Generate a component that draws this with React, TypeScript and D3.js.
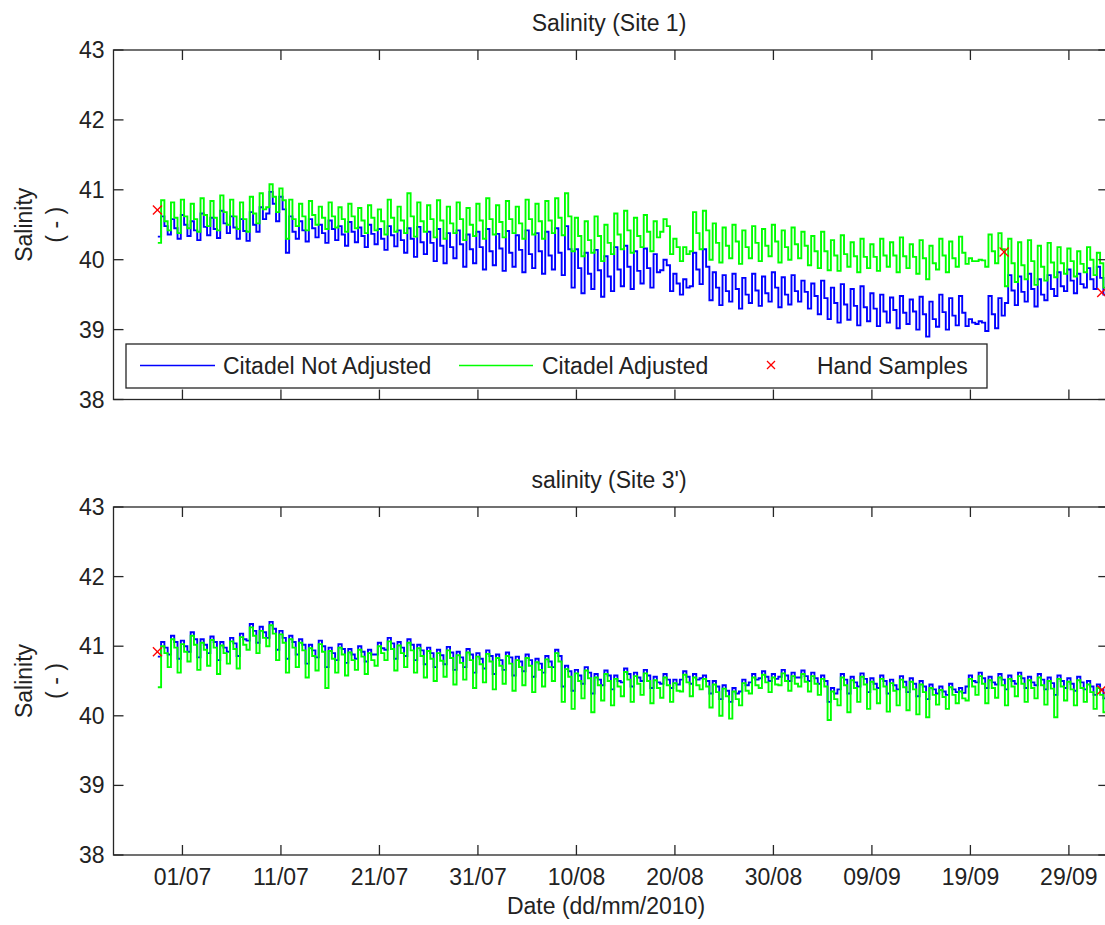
import React from 'react';
import * as d3 from 'd3';

// ---------- DATA ----------
const seriesStart = '2010-06-28';
const tickLabels = ['01/07', '11/07', '21/07', '31/07', '10/08', '20/08', '30/08', '09/09', '19/09', '29/09'];
const yTickValues = [38, 39, 40, 41, 42, 43];
const legendLabels = ['Citadel Not Adjusted', 'Citadel Adjusted', 'Hand Samples'];

// Site 1 — daily low / high / mid readings (28/06 .. 02/10)
const site1NotAdjLo = [
  40.33, 40.36, 40.30, 40.34, 40.28, 40.35, 40.31, 40.38, 40.30, 40.27,
  40.40, 40.66, 40.55, 40.10, 40.30, 40.26, 40.32, 40.24, 40.28, 40.20,
  40.25, 40.18, 40.22, 40.14, 40.19, 40.10, 40.04, 40.08, 39.98, 39.95,
  40.02, 39.90, 39.95, 39.86, 39.92, 39.84, 39.90, 39.82, 39.88, 39.80,
  39.86, 39.78, 39.60, 39.52, 39.58, 39.47, 39.55, 39.62, 39.58, 39.66,
  39.60, 39.85, 39.55, 39.50, 39.62, 39.65, 39.42, 39.35, 39.40, 39.30,
  39.38, 39.34, 39.40, 39.32, 39.36, 39.40, 39.30, 39.22, 39.15, 39.10,
  39.14, 39.06, 39.12, 39.05, 39.10, 39.02, 39.08, 39.00, 38.90, 39.04,
  39.00, 39.06, 39.05, 39.08, 38.98, 39.02, 39.38, 39.35, 39.40, 39.33,
  39.42, 39.48, 39.55, 39.52, 39.60, 39.58, 39.50,
];
const site1NotAdjHi = [
  40.62, 40.58, 40.64, 40.55, 40.66, 40.60, 40.70, 40.62, 40.58, 40.68,
  40.75, 40.97, 40.90, 40.62, 40.55, 40.58, 40.50, 40.56, 40.48, 40.54,
  40.46, 40.50, 40.44, 40.48, 40.42, 40.45, 40.47, 40.40, 40.44, 40.38,
  40.42, 40.36, 40.40, 40.44, 40.37, 40.41, 40.35, 40.42, 40.38, 40.40,
  40.45, 40.48, 40.15, 40.10, 40.14, 40.05, 40.18, 40.20, 40.12, 40.16,
  40.08, 40.00, 39.80, 39.72, 40.10, 40.15, 39.82, 39.78, 39.80, 39.74,
  39.80, 39.76, 39.82, 39.75, 39.78, 39.70, 39.66, 39.70, 39.60, 39.65,
  39.58, 39.62, 39.52, 39.50, 39.46, 39.48, 39.43, 39.47, 39.40, 39.50,
  39.45, 39.48, 39.15, 39.12, 39.48, 39.45, 39.78, 39.76, 39.80, 39.72,
  39.78, 39.82, 39.86, 39.80, 39.88, 39.90, 39.62,
];
const site1NotAdjMid = [
  40.48, 40.45, 40.50, 40.42, 40.47, 40.44, 40.52, 40.46, 40.41, 40.50,
  40.58, 40.80, 40.72, 40.40, 40.42, 40.45, 40.38, 40.44, 40.36, 40.40,
  40.34, 40.37, 40.30, 40.35, 40.28, 40.30, 40.25, 40.24, 40.20, 40.18,
  40.22, 40.15, 40.18, 40.12, 40.16, 40.10, 40.14, 40.08, 40.12, 40.06,
  40.10, 40.15, 39.88, 39.80, 39.85, 39.76, 39.86, 39.90, 39.84, 39.88,
  39.82, 39.92, 39.66, 39.60, 39.86, 39.90, 39.60, 39.55, 39.58, 39.50,
  39.56, 39.52, 39.60, 39.50, 39.55, 39.54, 39.48, 39.45, 39.38, 39.36,
  39.34, 39.32, 39.30, 39.26, 39.28, 39.24, 39.26, 39.22, 39.15, 39.25,
  39.20, 39.24, 39.10, 39.10, 39.22, 39.20, 39.56, 39.54, 39.58, 39.50,
  39.58, 39.62, 39.70, 39.65, 39.72, 39.74, 39.55,
];
const site1AdjLo = [
  40.24, 40.42, 40.38, 40.45, 40.40, 40.48, 40.42, 40.50, 40.44, 40.40,
  40.52, 40.75, 40.68, 40.30, 40.48, 40.42, 40.50, 40.44, 40.46, 40.40,
  40.45, 40.38, 40.42, 40.36, 40.40, 40.38, 40.33, 40.40, 40.32, 40.30,
  40.38, 40.28, 40.34, 40.30, 40.36, 40.32, 40.38, 40.30, 40.36, 40.30,
  40.38, 40.35, 40.12, 40.05, 40.10, 39.98, 40.08, 40.15, 40.10, 40.18,
  40.12, 40.40, 40.08, 39.98, 40.12, 40.15, 40.00, 39.96, 40.02, 39.94,
  40.02, 39.98, 40.05, 39.96, 40.00, 40.02, 39.92, 39.88, 39.85, 39.84,
  39.90, 39.82, 39.88, 39.84, 39.90, 39.82, 39.88, 39.80, 39.72, 39.86,
  39.82, 39.90, 39.94, 39.98, 39.90, 39.95, 39.62, 39.68, 39.72, 39.64,
  39.70, 39.75, 39.80, 39.76, 39.82, 39.78, 39.60,
];
const site1AdjHi = [
  40.85, 40.82, 40.86, 40.80, 40.88, 40.84, 40.92, 40.86, 40.82, 40.90,
  40.95, 41.08, 41.02, 40.86, 40.80, 40.84, 40.76, 40.82, 40.75, 40.80,
  40.74, 40.78, 40.72, 40.86, 40.76, 40.95, 40.82, 40.78, 40.85, 40.76,
  40.82, 40.74, 40.80, 40.88, 40.78, 40.84, 40.76, 40.86, 40.80, 40.84,
  40.88, 40.95, 40.60, 40.55, 40.62, 40.50, 40.66, 40.70, 40.60, 40.64,
  40.55, 40.58, 40.30, 40.18, 40.68, 40.70, 40.52, 40.46, 40.50, 40.42,
  40.48, 40.44, 40.50, 40.42, 40.46, 40.40, 40.34, 40.40, 40.28, 40.35,
  40.25, 40.30, 40.22, 40.30, 40.25, 40.32, 40.22, 40.28, 40.20, 40.30,
  40.26, 40.33, 40.02, 40.00, 40.36, 40.38, 40.30, 40.25, 40.28, 40.20,
  40.24, 40.18, 40.16, 40.12, 40.18, 40.10, 39.80,
];
const site1AdjMid = [
  40.55, 40.60, 40.62, 40.58, 40.64, 40.60, 40.68, 40.62, 40.58, 40.66,
  40.72, 40.90, 40.85, 40.58, 40.62, 40.64, 40.60, 40.62, 40.58, 40.62,
  40.56, 40.60, 40.55, 40.60, 40.56, 40.62, 40.55, 40.58, 40.56, 40.52,
  40.58, 40.50, 40.56, 40.58, 40.54, 40.58, 40.52, 40.58, 40.55, 40.56,
  40.60, 40.62, 40.34, 40.28, 40.34, 40.24, 40.36, 40.42, 40.34, 40.40,
  40.32, 40.48, 40.18, 40.08, 40.38, 40.42, 40.24, 40.20, 40.26, 40.18,
  40.24, 40.20, 40.26, 40.18, 40.22, 40.20, 40.12, 40.12, 40.06, 40.08,
  40.05, 40.04, 40.04, 40.06, 40.06, 40.05, 40.04, 40.02, 39.95, 40.06,
  40.02, 40.10, 39.98, 39.99, 40.12, 40.15, 39.95, 39.92, 39.98, 39.90,
  39.96, 39.95, 39.98, 39.94, 40.00, 39.95, 39.70,
];

// Site 3' — daily low / high / mid readings
const site3NotAdjLo = [
  40.85, 40.88, 40.82, 40.92, 40.84, 40.90, 40.80, 40.92, 40.86, 41.08,
  41.05, 41.12, 40.95, 40.82, 40.88, 40.75, 40.84, 40.70, 40.80, 40.76,
  40.82, 40.78, 40.88, 40.95, 40.82, 40.86, 40.80, 40.74, 40.70, 40.74,
  40.66, 40.70, 40.62, 40.68, 40.60, 40.66, 40.58, 40.64, 40.56, 40.62,
  40.70, 40.42, 40.36, 40.46, 40.32, 40.44, 40.38, 40.48, 40.42, 40.50,
  40.40, 40.46, 40.40, 40.52, 40.46, 40.54, 40.32, 40.24, 40.20, 40.35,
  40.48, 40.54, 40.50, 40.56, 40.50, 40.55, 40.50, 40.46, 40.20, 40.38,
  40.32, 40.42, 40.34, 40.40, 40.32, 40.38, 40.34, 40.28, 40.24, 40.32,
  40.30, 40.34, 40.42, 40.48, 40.40, 40.45, 40.38, 40.46, 40.40, 40.44,
  40.38, 40.30, 40.40, 40.36, 40.38, 40.30, 40.25,
];
const site3NotAdjHi = [
  41.06, 41.15, 41.08, 41.20, 41.10, 41.14, 41.06, 41.12, 41.18, 41.32,
  41.28, 41.35, 41.22, 41.15, 41.10, 41.02, 41.08, 40.98, 41.03, 40.96,
  41.00, 40.95, 41.05, 41.12, 41.06, 41.10, 41.02, 40.98, 40.95, 40.99,
  40.92, 40.96, 40.90, 40.94, 40.88, 40.91, 40.85, 40.88, 40.82, 40.86,
  40.95, 40.72, 40.66, 40.70, 40.60, 40.65, 40.58, 40.68, 40.62, 40.66,
  40.56, 40.60, 40.52, 40.64, 40.60, 40.58, 40.50, 40.44, 40.40, 40.52,
  40.60, 40.64, 40.60, 40.66, 40.62, 40.65, 40.62, 40.58, 40.40, 40.60,
  40.56, 40.61, 40.54, 40.58, 40.52, 40.57, 40.54, 40.50, 40.45, 40.42,
  40.46, 40.40, 40.58, 40.62, 40.56, 40.60, 40.58, 40.62, 40.56, 40.60,
  40.55, 40.58, 40.54, 40.56, 40.50, 40.45, 40.40,
];
const site3NotAdjMid = [
  40.98, 41.06, 41.00, 41.10, 41.02, 41.06, 40.98, 41.04, 41.10, 41.22,
  41.20, 41.25, 41.12, 41.06, 41.02, 40.94, 41.00, 40.90, 40.96, 40.88,
  40.92, 40.88, 40.97, 41.04, 40.98, 41.02, 40.94, 40.90, 40.87, 40.91,
  40.84, 40.88, 40.82, 40.86, 40.80, 40.84, 40.78, 40.80, 40.75, 40.78,
  40.86, 40.64, 40.58, 40.62, 40.52, 40.58, 40.50, 40.60, 40.55, 40.58,
  40.48, 40.52, 40.45, 40.56, 40.52, 40.50, 40.42, 40.36, 40.32, 40.44,
  40.52, 40.56, 40.53, 40.58, 40.55, 40.57, 40.54, 40.50, 40.32, 40.52,
  40.48, 40.53, 40.46, 40.50, 40.44, 40.49, 40.46, 40.42, 40.38, 40.35,
  40.38, 40.33, 40.50, 40.54, 40.48, 40.52, 40.50, 40.54, 40.48, 40.52,
  40.47, 40.50, 40.46, 40.48, 40.42, 40.38, 40.32,
];
const site3AdjLo = [
  40.41, 40.70, 40.62, 40.78, 40.66, 40.72, 40.60, 40.75, 40.68, 40.95,
  40.90, 41.00, 40.80, 40.62, 40.70, 40.55, 40.65, 40.40, 40.62, 40.58,
  40.66, 40.60, 40.72, 40.80, 40.65, 40.70, 40.62, 40.55, 40.50, 40.56,
  40.45, 40.52, 40.40, 40.48, 40.38, 40.46, 40.36, 40.44, 40.34, 40.42,
  40.50, 40.20, 40.10, 40.25, 40.05, 40.22, 40.15, 40.28, 40.20, 40.30,
  40.18, 40.26, 40.20, 40.35, 40.28, 40.38, 40.12, 40.00, 39.96, 40.15,
  40.32, 40.40, 40.34, 40.44, 40.36, 40.42, 40.35, 40.30, 39.94, 40.15,
  40.05, 40.20, 40.10, 40.18, 40.06, 40.15, 40.08, 40.02, 39.98, 40.16,
  40.10, 40.18, 40.22, 40.30, 40.18, 40.26, 40.15, 40.28, 40.20, 40.25,
  40.16, 39.98, 40.22, 40.15, 40.20, 40.10, 40.05,
];
const site3AdjHi = [
  41.00, 41.10, 41.03, 41.15, 41.05, 41.09, 41.01, 41.07, 41.13, 41.27,
  41.22, 41.30, 41.17, 41.10, 41.05, 40.97, 41.03, 40.93, 40.98, 40.91,
  40.95, 40.90, 41.00, 41.07, 41.01, 41.05, 40.97, 40.93, 40.90, 40.94,
  40.87, 40.91, 40.85, 40.89, 40.83, 40.86, 40.80, 40.83, 40.77, 40.81,
  40.90, 40.67, 40.61, 40.65, 40.55, 40.60, 40.53, 40.63, 40.57, 40.61,
  40.51, 40.55, 40.47, 40.59, 40.55, 40.53, 40.45, 40.39, 40.35, 40.47,
  40.55, 40.59, 40.55, 40.61, 40.57, 40.60, 40.57, 40.53, 40.35, 40.55,
  40.51, 40.56, 40.49, 40.53, 40.47, 40.52, 40.49, 40.45, 40.40, 40.37,
  40.41, 40.35, 40.53, 40.57, 40.51, 40.55, 40.53, 40.57, 40.51, 40.55,
  40.50, 40.53, 40.49, 40.51, 40.45, 40.40, 40.35,
];
const site3AdjMid = [
  40.90, 40.98, 40.92, 41.02, 40.95, 40.98, 40.90, 40.96, 41.02, 41.15,
  41.12, 41.18, 41.05, 40.98, 40.94, 40.86, 40.92, 40.82, 40.88, 40.80,
  40.85, 40.80, 40.90, 40.96, 40.90, 40.94, 40.86, 40.82, 40.79, 40.83,
  40.76, 40.80, 40.74, 40.78, 40.72, 40.75, 40.70, 40.72, 40.66, 40.70,
  40.78, 40.56, 40.50, 40.54, 40.44, 40.50, 40.42, 40.52, 40.46, 40.50,
  40.40, 40.44, 40.36, 40.48, 40.44, 40.42, 40.34, 40.28, 40.24, 40.36,
  40.44, 40.48, 40.45, 40.50, 40.46, 40.49, 40.46, 40.42, 40.24, 40.44,
  40.40, 40.45, 40.38, 40.42, 40.36, 40.41, 40.38, 40.34, 40.30, 40.27,
  40.30, 40.25, 40.42, 40.46, 40.40, 40.44, 40.42, 40.46, 40.40, 40.44,
  40.39, 40.42, 40.38, 40.40, 40.34, 40.30, 40.25,
];

// Hand samples
const site1HandDates = ['2010-06-28T11:00', '2010-09-22T10:00', '2010-10-02T08:00'];
const site1HandValues = [40.71, 40.11, 39.53];
const site3HandDates = ['2010-06-28T11:00', '2010-10-02T08:00'];
const site3HandValues = [40.92, 40.37];

// ---------- LAYOUT ----------
const W = 1105;
const H = 925;
const LEFT = 113.5;
const RIGHT = 1108.3;
const FONT = '"Liberation Sans", Arial, Helvetica, sans-serif';
const TXT = '#222';
const AX = '#262626';

const parseDay = d3.timeParse('%Y-%m-%d')!;
const parseDT = d3.timeParse('%Y-%m-%dT%H:%M')!;
const parseTick = d3.timeParse('%d/%m/%Y')!;

const x = d3
  .scaleTime()
  .domain([new Date(2010, 5, 24), new Date(2010, 9, 3)])
  .range([LEFT, RIGHT]);

type Pt = { t: Date; v: number };

// three readings a day: low at 12h, high at 20h, mid at 04h next day
function buildSeries(lo: number[], hi: number[], mid: number[]): Pt[] {
  const start = parseDay(seriesStart) as Date;
  const pts: Pt[] = [];
  lo.forEach((l, d) => {
    pts.push({ t: d3.timeHour.offset(start, d * 24 + 12), v: l });
    pts.push({ t: d3.timeHour.offset(start, d * 24 + 20), v: hi[d] });
    pts.push({ t: d3.timeHour.offset(start, d * 24 + 28), v: mid[d] });
  });
  return pts;
}

const tickDates = tickLabels.map((l) => parseTick(l + '/2010') as Date);

interface PanelDef {
  id: string;
  title: string;
  top: number;
  bottom: number;
  titleY: number;
  blue: Pt[];
  green: Pt[];
  hand: Pt[];
  xLabels: boolean;
  legend: boolean;
}

const panels: PanelDef[] = [
  {
    id: 'p1',
    title: 'Salinity (Site 1)',
    top: 50,
    bottom: 399.5,
    titleY: 31,
    blue: buildSeries(site1NotAdjLo, site1NotAdjHi, site1NotAdjMid),
    green: buildSeries(site1AdjLo, site1AdjHi, site1AdjMid),
    hand: site1HandDates.map((d, i) => ({ t: parseDT(d) as Date, v: site1HandValues[i] })),
    xLabels: false,
    legend: true,
  },
  {
    id: 'p2',
    title: "salinity (Site 3')",
    top: 507,
    bottom: 855,
    titleY: 488,
    blue: buildSeries(site3NotAdjLo, site3NotAdjHi, site3NotAdjMid),
    green: buildSeries(site3AdjLo, site3AdjHi, site3AdjMid),
    hand: site3HandDates.map((d, i) => ({ t: parseDT(d) as Date, v: site3HandValues[i] })),
    xLabels: true,
    legend: false,
  },
];

function Cross({ cx, cy, r = 4.5 }: { cx: number; cy: number; r?: number }) {
  return (
    <g stroke="#ff0000" strokeWidth={1.3}>
      <line x1={cx - r} y1={cy - r} x2={cx + r} y2={cy + r} />
      <line x1={cx - r} y1={cy + r} x2={cx + r} y2={cy - r} />
    </g>
  );
}

function Panel({ p }: { p: PanelDef }) {
  const y = d3.scaleLinear().domain([38, 43]).range([p.bottom, p.top]);
  const line = d3
    .line<Pt>()
    .x((d) => x(d.t))
    .y((d) => y(d.v))
    .curve(d3.curveStepAfter);
  const tick = 10;
  const yc = (p.top + p.bottom) / 2;
  return (
    <g>
      <defs>
        <clipPath id={'clip-' + p.id}>
          <rect x={LEFT} y={p.top} width={RIGHT - LEFT} height={p.bottom - p.top} />
        </clipPath>
      </defs>
      <g clipPath={`url(#clip-${p.id})`}>
        <path d={line(p.blue) || ''} fill="none" stroke="#0000ff" strokeWidth={1.9} />
        <path d={line(p.green) || ''} fill="none" stroke="#00ff00" strokeWidth={1.9} />
      </g>
      {p.hand.map((h, i) => (
        <Cross key={i} cx={x(h.t)} cy={y(h.v)} />
      ))}
      <rect
        x={LEFT}
        y={p.top}
        width={RIGHT - LEFT}
        height={p.bottom - p.top}
        fill="none"
        stroke={AX}
        strokeWidth={1.3}
      />
      {tickDates.map((d, i) => {
        const xx = x(d);
        return (
          <g key={'xt' + i} stroke={AX} strokeWidth={1.3}>
            <line x1={xx} x2={xx} y1={p.bottom} y2={p.bottom - tick} />
            <line x1={xx} x2={xx} y1={p.top} y2={p.top + tick} />
          </g>
        );
      })}
      {p.xLabels &&
        tickDates.map((d, i) => (
          <text
            key={'xl' + i}
            x={x(d)}
            y={p.bottom + 30}
            textAnchor="middle"
            fontSize={23}
            fill={TXT}
            fontFamily={FONT}
          >
            {tickLabels[i]}
          </text>
        ))}
      {yTickValues.map((v) => (
        <g key={'yt' + v}>
          <line x1={LEFT} x2={LEFT + tick} y1={y(v)} y2={y(v)} stroke={AX} strokeWidth={1.3} />
          <line x1={RIGHT} x2={RIGHT - tick} y1={y(v)} y2={y(v)} stroke={AX} strokeWidth={1.3} />
          <text
            x={LEFT - 9}
            y={y(v)}
            dy="0.35em"
            textAnchor="end"
            fontSize={23}
            fill={TXT}
            fontFamily={FONT}
          >
            {v}
          </text>
        </g>
      ))}
      <text x={609} y={p.titleY} textAnchor="middle" fontSize={23} fill={TXT} fontFamily={FONT}>
        {p.title}
      </text>
      <text
        transform={`translate(32,${yc}) rotate(-90)`}
        textAnchor="middle"
        fontSize={23}
        fill={TXT}
        fontFamily={FONT}
      >
        Salinity
      </text>
      <text
        transform={`translate(63,${yc}) rotate(-90)`}
        textAnchor="middle"
        fontSize={23}
        fill={TXT}
        fontFamily={FONT}
      >
        ( - )
      </text>
      {p.legend && (
        <g fontFamily={FONT} fontSize={23} fill={TXT}>
          <rect x={126} y={344} width={861} height={44} fill="#fff" stroke={AX} strokeWidth={1.3} />
          <line x1={140} x2={215} y1={365.5} y2={365.5} stroke="#0000ff" strokeWidth={1.5} />
          <text x={223} y={374}>{legendLabels[0]}</text>
          <line x1={459} x2={533} y1={365.5} y2={365.5} stroke="#00ff00" strokeWidth={1.5} />
          <text x={542} y={374}>{legendLabels[1]}</text>
          <Cross cx={771} cy={365} r={4} />
          <text x={817} y={374}>{legendLabels[2]}</text>
        </g>
      )}
    </g>
  );
}

export default function App() {
  return (
    <svg
      width={W}
      height={H}
      viewBox={`0 0 ${W} ${H}`}
      style={{ position: 'absolute', left: 0, top: 0, background: '#fff' }}
    >
      <rect x={0} y={0} width={W} height={H} fill="#fff" />
      {panels.map((p) => (
        <Panel key={p.id} p={p} />
      ))}
      <text x={606} y={914} textAnchor="middle" fontSize={23} fill={TXT} fontFamily={FONT}>
        Date (dd/mm/2010)
      </text>
    </svg>
  );
}
